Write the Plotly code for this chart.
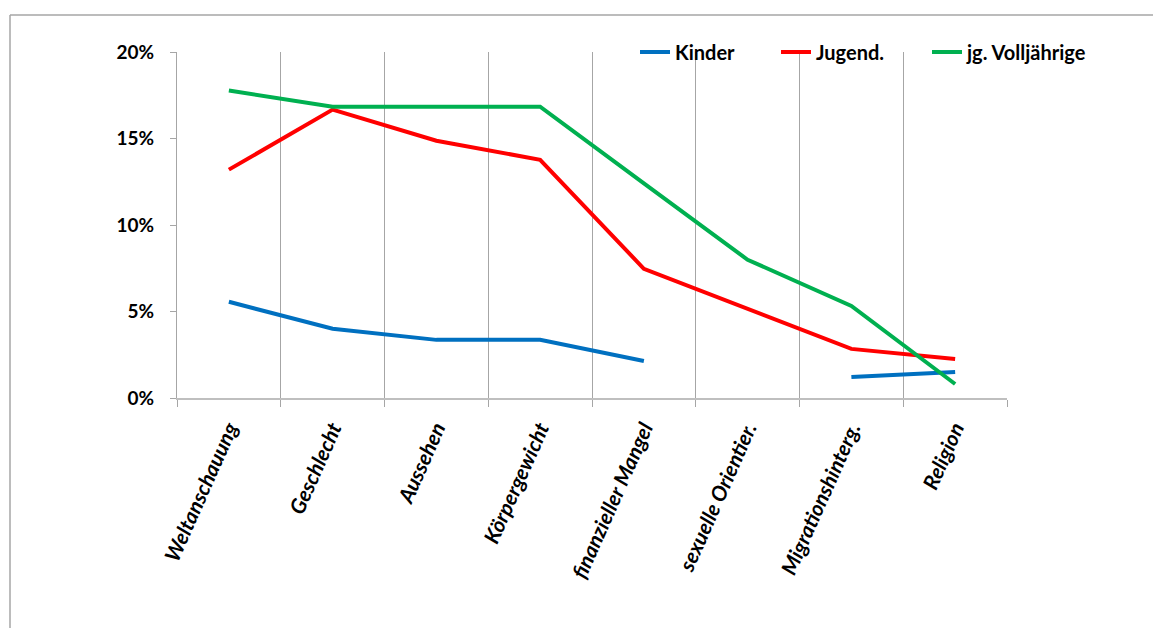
import plotly.graph_objects as go

categories = ["Weltanschauung", "Geschlecht", "Aussehen", "Körpergewicht",
              "finanzieller Mangel", "sexuelle Orientier.", "Migrationshinterg.", "Religion"]
kinder = [0.0556, 0.040, 0.0336, 0.0336, 0.0214, None, 0.0122, 0.015]
jugend = [0.132, 0.1667, 0.1487, 0.1377, 0.0747, 0.0515, 0.0284, 0.0226]
volljaehrige = [0.1777, 0.1684, 0.1684, 0.1684, 0.124, 0.0799, 0.0532, 0.0081]

FONT = "Lato"

fig = go.Figure()
series = [("Kinder", kinder, "#0070C0", "legend"),
          ("Jugend.", jugend, "#FF0000", "legend2"),
          ("jg. Volljährige", volljaehrige, "#00B050", "legend3")]
for name, vals, col, leg in series:
    fig.add_trace(go.Scatter(x=categories, y=vals, name=name, mode="lines",
                             line=dict(color=col, width=4), connectgaps=False, legend=leg))

def legend_at(px):
    return dict(orientation="h", x=(px - 176) / 830, y=1.0, xanchor="left", yanchor="middle",
                font=dict(family=FONT, size=20, weight="bold", color="black"),
                bgcolor="rgba(0,0,0,0)", itemwidth=30)

fig.update_layout(
    width=1161, height=628,
    margin=dict(l=169, r=162, t=44, b=238, autoexpand=False),
    paper_bgcolor="white", plot_bgcolor="white",
    font=dict(family=FONT, size=19, color="black", weight="bold"),
    showlegend=True,
    legend=legend_at(634), legend2=legend_at(775), legend3=legend_at(926),
)
fig.update_xaxes(
    type="category", range=[-0.5, 7.5], tickson="boundaries", ticks="outside", ticklen=7,
    tickcolor="#a6a6a6", showgrid=True, gridcolor="#a6a6a6", gridwidth=1,
    showline=True, linecolor="#bfbfbf", linewidth=2,
    tickangle=-66, ticklabelstandoff=8,
    tickfont=dict(family=FONT, size=21, weight="bold", style="italic"),
)
fig.update_yaxes(
    range=[0, 0.20], tickvals=[0, 0.05, 0.10, 0.15, 0.20], tickformat=".0%",
    showgrid=False, zeroline=False, showline=True, linecolor="#a6a6a6", linewidth=1,
    ticks="outside", ticklen=6, tickcolor="#a6a6a6", ticklabelstandoff=12,
    tickfont=dict(family=FONT, size=19, weight="bold"),
)

# outer chart border (top and left edges visible)
fig.add_shape(type="line", xref="paper", yref="paper", x0=(9 - 176) / 830, x1=1.25,
              y0=(397 - 14) / 346, y1=(397 - 14) / 346, line=dict(color="#a6a6a6", width=1.5))
fig.add_shape(type="line", xref="paper", yref="paper", x0=(9 - 176) / 830, x1=(9 - 176) / 830,
              y0=(397 - 14) / 346, y1=-0.75, line=dict(color="#a6a6a6", width=1.5))

fig.write_html("out.html")
